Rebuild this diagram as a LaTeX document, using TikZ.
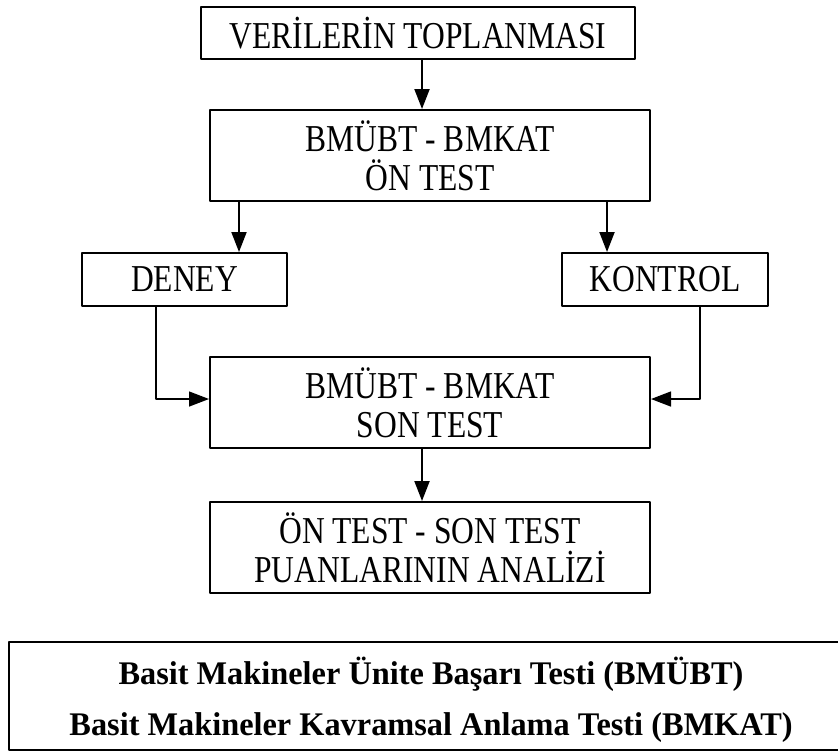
\documentclass[tikz,border=0pt]{standalone}
\usepackage{fontspec}
\setmainfont{Liberation Serif}
\newfontfamily\boxfont{Liberation Serif}[FakeStretch=0.83]
\newfontfamily\legendfont{Liberation Serif}[FakeStretch=0.98]
\usetikzlibrary{arrows.meta}
\begin{document}
\begin{tikzpicture}[x=0.5pt, y=-0.5pt, font=\boxfont\fontsize{19}{19.5}\selectfont, line join=round,
>={Triangle[width=7.5pt,length=10pt]},
box/.style={draw, line width=1pt, align=center, inner sep=0pt, minimum width=220pt, minimum height=45.5pt}]
\useasboundingbox (0,0) rectangle (838,752);
\path
(422,0) coordinate (xM)
(239,0) coordinate (xL)
(607,0) coordinate (xR)
(156,0) coordinate (xD)
(700,0) coordinate (xK)
(0,399) coordinate (yS)
;
\node[box, minimum width=217pt, minimum height=26pt] (veri) at (418,33) {VERİLERİN TOPLANMASI};
\node[box] (ontest) at (430,155.5) {BMÜBT - BMKAT\\ÖN TEST};
\node[box, minimum width=102.5pt, minimum height=26.5pt] (deney) at (184.5,279.5) {DENEY};
\node[box, minimum width=103pt, minimum height=26.5pt] (kontrol) at (665,279.5) {KONTROL};
\node[box] (sontest) at (430,402.5) {BMÜBT - BMKAT\\SON TEST};
\node[box] (analiz) at (430,547.5) {ÖN TEST - SON TEST\\PUANLARININ ANALİZİ};
\draw[->, line width=1pt] (veri.south -| xM) -- (ontest.north -| xM);
\draw[->, line width=1pt] (ontest.south -| xL) -- (deney.north -| xL);
\draw[->, line width=1pt] (ontest.south -| xR) -- (kontrol.north -| xR);
\draw[->, line width=0.7pt] (deney.south -| xD) |- (sontest.west |- yS);
\draw[->, line width=0.7pt] (kontrol.south -| xK) |- (sontest.east |- yS);
\draw[->, line width=1pt] (sontest.south -| xM) -- (analiz.north -| xM);
% olcek aciklamasi
\draw[line width=1pt] (838,642) -- (9,642) -- (9,750) -- (838,750);
\node[anchor=base, font=\legendfont\bfseries\fontsize{16.5}{19}\selectfont] (bmubt) at (431,684) {Basit Makineler Ünite Başarı Testi (BMÜBT)};
\node[anchor=base, font=\legendfont\bfseries\fontsize{16.5}{19}\selectfont] (bmkat) at (431,735) {Basit Makineler Kavramsal Anlama Testi (BMKAT)};
\end{tikzpicture}
\end{document}
